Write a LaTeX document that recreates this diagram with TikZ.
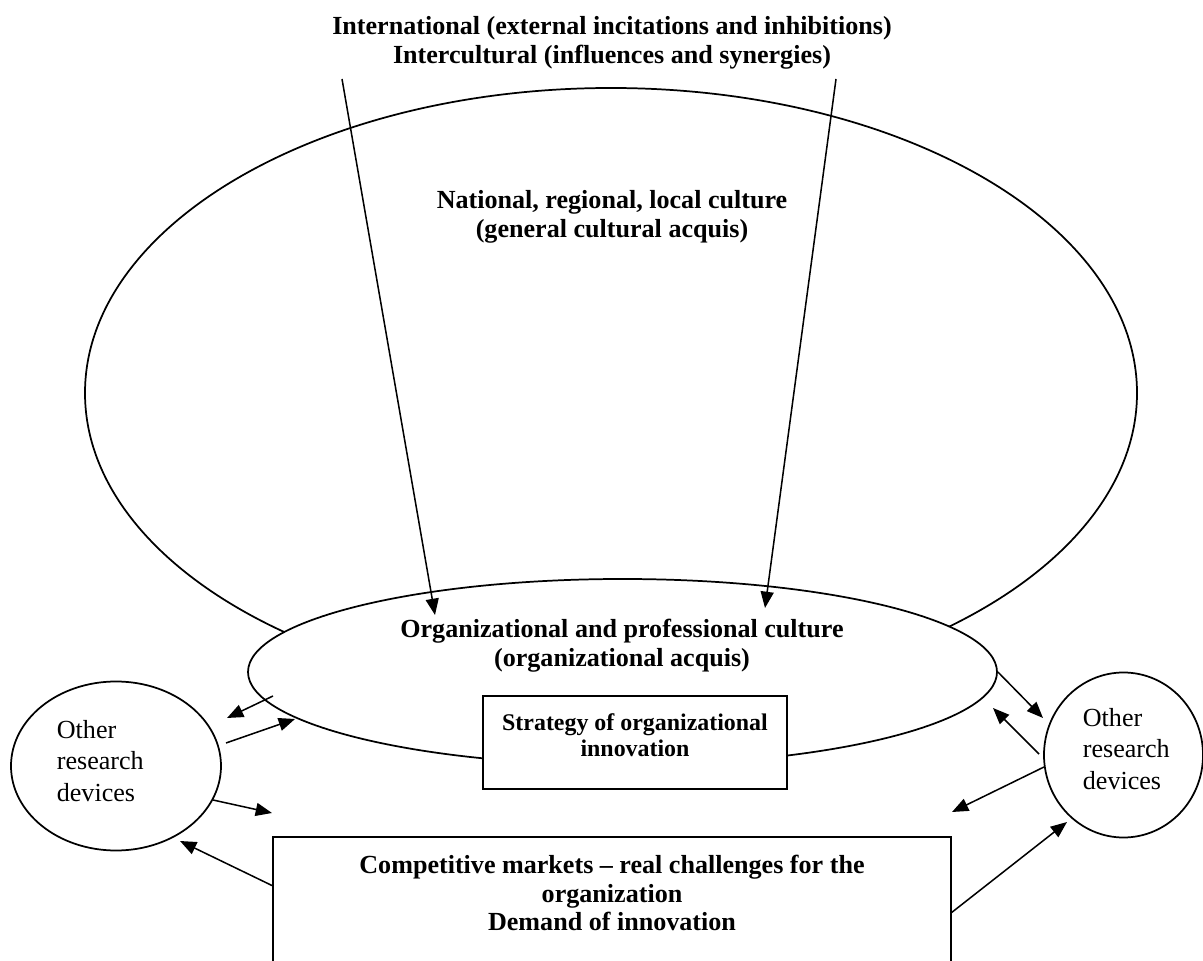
\documentclass[tikz,border=0pt]{standalone}
\usepackage{fontspec}
\setmainfont{Liberation Serif}
\usetikzlibrary{shapes.geometric,arrows.meta}
\newcommand{\pxu}{0.46pt}

\begin{document}
\begin{tikzpicture}[x=\pxu,y=-\pxu, line width=0.8pt,
  every node/.style={font=\fontsize{12}{13.3}\selectfont, inner sep=0pt},
  oval/.style={draw,ellipse},
  box/.style={draw,rectangle},
  lbl/.style={align=center,font=\fontsize{12}{13.3}\selectfont\bfseries},
  dev/.style={align=left,anchor=west,font=\fontsize{12}{14.3}\selectfont},
  arr/.style={-{Triangle[length=7.5pt,width=6pt]},line width=0.7pt}]
\useasboundingbox (0,0) rectangle (1203,961);
\clip (0,0) rectangle (1203,961);
% shapes
\node[oval,minimum width=1052*\pxu,minimum height=610*\pxu] (natcult) at (611,393) {};
\node[oval,fill=white,minimum width=749*\pxu,minimum height=186*\pxu] (orgcult) at (622.5,672) {};
\node[box,fill=white,minimum width=304*\pxu,minimum height=93*\pxu] (strat) at (635,742.5) {};
\node[box,anchor=north,minimum width=678*\pxu,minimum height=160*\pxu] (market) at (612,836) {};
\node[oval,minimum width=210*\pxu,minimum height=169*\pxu] (devL) at (116,766) {};
\node[oval,minimum width=159*\pxu,minimum height=165*\pxu] (devR) at (1123.5,755) {};
% texts
\node[lbl] (title) at (612,43) {International (external incitations and inhibitions)\\Intercultural (influences and synergies)};
\node[lbl] (nattxt) at (612,217) {National, regional, local culture\\(general cultural acquis)};
\node[lbl] (orgtxt) at (622,646) {Organizational and professional culture\\(organizational acquis)};
\node[lbl,font=\fontsize{11}{12}\selectfont\bfseries] (strattxt) at (635,735) {Strategy of organizational\\innovation};
\node[lbl] (markettxt) at (612,893) {Competitive markets -- real challenges for the\\organization\\Demand of innovation};
\node[dev] (devLtxt) at (56,761) {Other\\research\\devices};
\node[dev] (devRtxt) at (1082,749) {Other\\research\\devices};
% arrow ends
\coordinate (inL) at (342,79);
\coordinate (inLtip) at (435,615);
\coordinate (inR) at (836,79);
\coordinate (inRtip) at (765,608);
\coordinate (la1) at (273,696);
\coordinate (la2) at (227,718);
\coordinate (lb1) at (226,743);
\coordinate (lb2) at (295,719);
\coordinate (lc1) at (213,800);
\coordinate (lc2) at (272,813);
\coordinate (ld1) at (273,886);
\coordinate (ld2) at (180,841);
\coordinate (re2) at (1043,718);
\coordinate (rf1) at (1039,754);
\coordinate (rf2) at (993,708);
\coordinate (rg1) at (1044,767);
\coordinate (rg2) at (952,812);
\coordinate (rh1) at (951,913);
\coordinate (rh2) at (1067,822);
% arrows
\draw[arr] (inL) -- (inLtip);
\draw[arr] (inR) -- (inRtip);
\draw[arr] (la1) -- (la2);
\draw[arr] (lb1) -- (lb2);
\draw[arr] (lc1) -- (lc2);
\draw[arr] (ld1) -- (ld2);
\draw[arr] (orgcult.east) -- (re2);
\draw[arr] (rf1) -- (rf2);
\draw[arr] (rg1) -- (rg2);
\draw[arr] (rh1) -- (rh2);
\end{tikzpicture}
\end{document}
